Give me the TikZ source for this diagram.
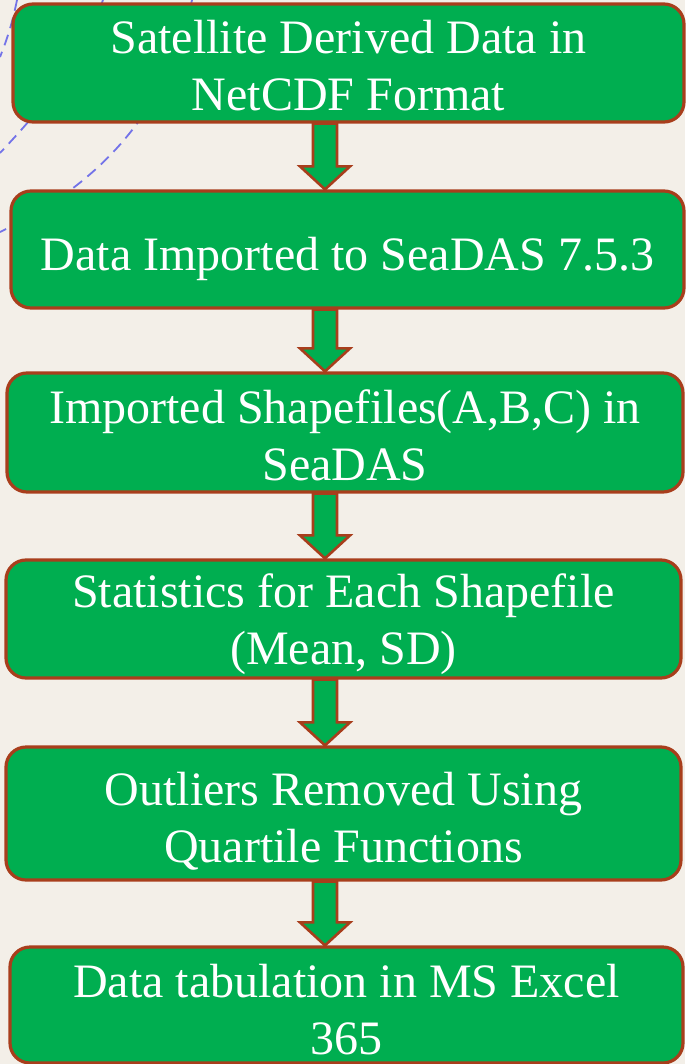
\documentclass[tikz,border=0pt]{standalone}
\usepackage{fontspec}
\setmainfont{Liberation Serif}
\usepackage{xcolor}
\usepackage{tikz}
\usetikzlibrary{positioning,calc,arrows.meta}

\definecolor{boxgreen}{HTML}{00AE50}
\definecolor{boxedge}{HTML}{A83E1C}
\definecolor{paper}{HTML}{F3EFE8}
\definecolor{swirl}{HTML}{7373E8}

% block arrow from the bottom of one step to the top of the next
\newcommand{\flowarrow}[2]{%
  \draw[blockarrow] let \p1=(#1.south), \p2=(#2.north) in
    (313pt,\y1) -- (337pt,\y1) -- (337pt,\y2+23pt) -- (350pt,\y2+23pt)
    -- (325pt,\y2) -- (300pt,\y2+23pt) -- (313pt,\y2+23pt) -- cycle;}

\begin{document}
\begin{tikzpicture}[x=1pt, y=-1pt,
    stepbox/.style={draw=boxedge, line width=3.2pt, fill=boxgreen, rounded corners=20pt,
      text=white, align=center, inner sep=0pt, font=\fontsize{48}{57}\selectfont},
    blockarrow/.style={draw=boxedge, line width=2.6pt, fill=boxgreen, line join=miter},
    swirlline/.style={draw=swirl, line width=1.8pt, dash pattern=on 11pt off 7pt}]

    % page
    \fill[paper] (0,0) rectangle (685,1064);
    \useasboundingbox (0,0) rectangle (685,1064);

    % background dashed arcs
    \draw[swirlline] (17,0) .. controls (12,25) and (6,42) .. (0,57);
    \draw[swirlline] (103,0) .. controls (80,60) and (50,100) .. (0,153);
    \draw[swirlline] (192,0) .. controls (170,100) and (110,180) .. (0,232);

    % steps
    \node[stepbox, minimum width=671, minimum height=118, text height=96pt] (netcdf) at (348.5,63)
        {Satellite Derived Data in\\NetCDF Format};
    \node[stepbox, minimum width=673, minimum height=117, text height=53pt] (seadas) at (347.5,249.5)
        {Data Imported to SeaDAS 7.5.3};
    \node[stepbox, minimum width=676, minimum height=119, text height=96pt] (shapes) at (345,432.5)
        {Imported Shapefiles(A,B,C) in\\SeaDAS};
    \node[stepbox, minimum width=675, minimum height=118, text height=102pt] (stats) at (343.5,619)
        {Statistics for Each Shapefile\\(Mean, SD)};
    \node[stepbox, minimum width=675, minimum height=133, text height=106pt] (outliers) at (343.5,813.5)
        {Outliers Removed Using\\Quartile Functions};
    \node[stepbox, minimum width=673, minimum height=116, text height=100pt] (excel) at (346.5,1005)
        {Data tabulation in MS Excel\\365};

    % arrows
    \flowarrow{netcdf}{seadas}
    \flowarrow{seadas}{shapes}
    \flowarrow{shapes}{stats}
    \flowarrow{stats}{outliers}
    \flowarrow{outliers}{excel}

\end{tikzpicture}
\end{document}
